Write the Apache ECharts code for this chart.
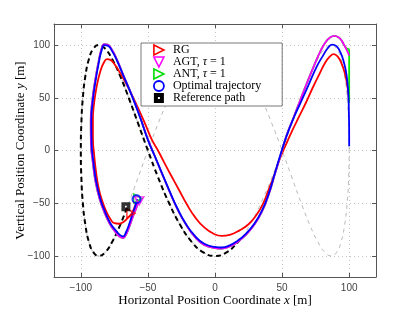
<!DOCTYPE html>
<html><head><meta charset="utf-8">
<script src="https://cdn.jsdelivr.net/npm/echarts@6/dist/echarts.min.js"></script>
<style>html,body{margin:0;padding:0;background:#fff}#c{width:415px;height:313px}</style>
</head><body><div id="c"></div>
<script>
// Full reference figure (thin grey dashed)
const refFull = [[100,0],[99.6,25.9],[98.5,50],[96.6,70.7],[94,86.6],[90.6,96.6],[86.6,100],[81.9,96.6],[76.6,86.6],[70.7,70.7],[64.3,50],[57.4,25.9],[50,0],[42.3,-25.9],[34.2,-50],[25.9,-70.7],[17.4,-86.6],[8.7,-96.6],[0,-100],[-8.7,-96.6],[-17.4,-86.6],[-25.9,-70.7],[-34.2,-50],[-42.3,-25.9],[-50,0],[-57.4,25.9],[-64.3,50],[-70.7,70.7],[-76.6,86.6],[-81.9,96.6],[-86.6,100],[-90.6,96.6],[-94,86.6],[-96.6,70.7],[-98.5,50],[-99.6,25.9],[-100,0],[-99.6,-25.9],[-98.5,-50],[-96.6,-70.7],[-94,-86.6],[-90.6,-96.6],[-86.6,-100],[-81.9,-96.6],[-76.6,-86.6],[-70.7,-70.7],[-64.3,-50],[-57.4,-25.9],[-50,0],[-42.3,25.9],[-34.2,50],[-25.9,70.7],[-17.4,86.6],[-8.7,96.6],[0,100],[8.7,96.6],[17.4,86.6],[25.9,70.7],[34.2,50],[42.3,25.9],[50,0],[57.4,-25.9],[64.3,-50],[70.7,-70.7],[76.6,-86.6],[81.9,-96.6],[86.6,-100],[90.6,-96.6],[94,-86.6],[96.6,-70.7],[98.5,-50],[99.6,-25.9],[100,0]];
// Reference path (thick black dashed)
const refPath = [[-65.6,-54.5],[-70.7,-70.7],[-76.6,-86.6],[-81.9,-96.6],[-86.6,-100],[-90.6,-96.6],[-94,-86.6],[-96.6,-70.7],[-98.5,-50],[-99.6,-25.9],[-100,0],[-99.6,25.9],[-98.5,50],[-96.6,70.7],[-94,86.6],[-90.6,96.6],[-86.6,100],[-81.9,96.6],[-76.6,86.6],[-70.7,70.7],[-64.3,50],[-57.4,25.9],[-50,0],[-42.3,-25.9],[-34.2,-50],[-25.9,-70.7],[-17.4,-86.6],[-8.7,-96.6],[0,-100],[8.7,-96.6],[17.4,-86.6],[19.1,-83.9]];
// RG trajectory
const rgPath = [[-58,-47],[-60,-54],[-62,-59.5],[-65,-64],[-68,-67.5],[-71.5,-69.5],[-75,-69],[-78,-65],[-81,-58],[-84,-48],[-86.5,-37],[-88.5,-22],[-90,-5],[-91,12],[-91,30],[-90,46],[-88,62],[-85.5,75],[-83,83],[-80.5,86.7],[-78,86],[-75,82],[-70,72],[-64,58],[-58,42],[-52,25],[-47,10],[-42.5,0],[-38,-11],[-33,-23],[-27,-37],[-21,-51],[-15,-63],[-8,-73],[-1,-79],[5,-81],[11,-80],[18,-76],[25,-70],[31,-61],[36,-50],[40,-37],[44,-24],[48,-9],[53,6],[58,20],[63,33],[68,46],[73,60],[78,73],[82,83],[85.5,89],[88.5,91.5],[91.5,89],[94.5,82],[97,72],[98.8,60],[99.7,50],[100,46]];
// AGT, tau = 1
const agtPath = [[-57,-47],[-58.5,-54],[-61,-62],[-63.5,-71],[-66,-79],[-68.5,-83],[-71.5,-81.5],[-75,-76],[-78.5,-69.5],[-82.5,-58.5],[-86,-46],[-89,-30],[-91,-12],[-92.5,8],[-92.6,28],[-91.4,48],[-89.4,66],[-86.8,84],[-84.7,96],[-82.5,101],[-80,100.5],[-77,96],[-73,86],[-68,70.5],[-62,52.5],[-56,32.5],[-50,10.5],[-45,-5],[-40,-20.5],[-34,-38.5],[-28,-55.5],[-22,-69.5],[-15,-82],[-8,-89.5],[0,-92.5],[5,-93],[11,-91],[17,-86.5],[23,-80],[29,-71],[35,-58],[40,-42],[44.5,-23],[49,-4],[53.5,15],[58.5,31],[63,46],[68.5,64],[74,81],[78.5,94],[82.5,103],[86,107.5],[89,108.8],[92,107.5],[94.5,104],[96.5,99.5],[98.5,94.5],[100,90]];
// ANT, tau = 1
const antPath = [[-57,-47],[-58.5,-54],[-61,-62],[-63.5,-71],[-66,-79],[-68.5,-83],[-71.5,-81.5],[-75,-76],[-78.5,-69.5],[-82.5,-58.5],[-86,-46],[-89,-30],[-91,-12],[-92.5,8],[-92.6,28],[-91.4,48],[-89.4,66],[-86.8,84],[-84.7,96],[-82.5,101],[-80,100.5],[-77,96],[-73,86],[-68,70.5],[-62,52.5],[-56,32.5],[-50,10.5],[-45,-5],[-40,-20.5],[-34,-38.5],[-28,-55.5],[-22,-69.5],[-15,-82],[-8,-89.5],[0,-92.5],[5,-93],[11,-91],[17,-86.5],[23,-80],[29,-71],[35,-58],[40,-42],[44.5,-23],[49,-4],[53.5,15],[58.5,31],[63,46],[68.5,64],[74,81],[78.5,94],[82.5,103],[86,107.5],[89,108.8],[92,107.5],[94.5,104],[96.5,99.5],[98.5,96.5],[100,96]];
const antTail = [[100,96],[100,45]];
// Optimal trajectory
const optPath = [[-58,-46],[-59.5,-53],[-61.5,-60],[-64,-70],[-66.5,-78],[-68.5,-81.5],[-71,-80],[-74.5,-75],[-78,-69],[-82,-58],[-85.5,-46],[-88.5,-30],[-90.5,-12],[-92,8],[-92.2,28],[-91,48],[-89,66],[-86.5,84],[-84.5,95],[-82.5,100],[-80,99.5],[-77,95],[-73,85],[-68,70],[-62,52],[-56,32],[-50,10],[-45,-5],[-40,-20],[-34,-38],[-28,-55],[-22,-69],[-15,-81],[-8,-88.5],[0,-91.5],[5,-92],[11,-90],[17,-85.5],[23,-79],[29,-70],[35,-57],[40,-41],[44.5,-22],[49,-3],[54,16],[59,32],[64,46],[70,63],[76,80],[80.5,90],[84,97],[87.3,100.5],[90.5,99],[93.5,93],[96,84],[98,72],[99.3,55],[99.8,35],[100,15],[100,4]];
// Markers
const rgMark = [[-62.7,-59.5]];
const agtMark = [[-56.5,-47.8]];
const antMark = [[-57.6,-45.6]];
const optMark = [[-58.5,-46.3]];
const refMark = [[-66.4,-53.3]];
const legendNames = ['RG','AGT, τ = 1','ANT, τ = 1','Optimal trajectory','Reference path'];

const TRI_R = 'path://M0,0L10,5L0,10Z';
const TRI_D = 'path://M0,0L10,0L5,10Z';
const SQ = 'path://M0,0L10,0L10,10L0,10Z M4,4L4,6L6,6L6,4Z';
const serif = 'Liberation Serif';
const minus = v => String(v).replace('-', '\u2212');

const axisCommon = {
  min: -120, max: 120, splitNumber: 5,
  axisLine: {show: true, onZero: false, lineStyle: {color: '#555', width: 1}},
  axisTick: {show: true, inside: true, length: 4, lineStyle: {color: '#555'}},
  splitLine: {show: true, lineStyle: {color: '#c4c4c4', type: [1, 3], width: 1}},
};

const chart = echarts.init(document.getElementById('c'));
chart.setOption({
  animation: false,
  grid: {left: 54, top: 24, right: 39, bottom: 36, show: false, containLabel: false, outerBoundsMode: 'none'},
  xAxis: [
    Object.assign({}, axisCommon, {type: 'value', position: 'bottom',
      axisLabel: {showMinLabel: false, showMaxLabel: false, margin: 6, color: '#444', fontFamily: 'Liberation Sans', fontSize: 10, formatter: minus},
      name: '{a|Horizontal Position Coordinate }{i|x}{a| [m]}', nameLocation: 'middle', nameGap: 17, nameMoveOverlap: false,
      nameTextStyle: {rich: {a: {fontFamily: serif, fontSize: 13, color: '#000'}, i: {fontFamily: serif, fontStyle: 'italic', fontSize: 13, color: '#000'}}}}),
    Object.assign({}, axisCommon, {type: 'value', position: 'top', axisLabel: {show: false}, splitLine: {show: false}})
  ],
  yAxis: [
    Object.assign({}, axisCommon, {type: 'value', position: 'left',
      axisLabel: {showMinLabel: false, showMaxLabel: false, margin: 4, color: '#444', fontFamily: 'Liberation Sans', fontSize: 10, formatter: minus},
      name: '{a|Vertical Position Coordinate }{i|y}{a| [m]}', nameLocation: 'middle', nameGap: 27, nameMoveOverlap: false,
      nameTextStyle: {rich: {a: {fontFamily: serif, fontSize: 13, color: '#000'}, i: {fontFamily: serif, fontStyle: 'italic', fontSize: 13, color: '#000'}}}}),
    Object.assign({}, axisCommon, {type: 'value', position: 'right', axisLabel: {show: false}, splitLine: {show: false}})
  ],
  legend: {
    left: 141, top: 43, orient: 'vertical', selectedMode: false,
    itemWidth: 10, itemHeight: 10, itemGap: 0,
    padding: [1, 21, 2, 12],
    backgroundColor: '#fff', borderColor: '#555', borderWidth: 0.8,
    textStyle: {fontFamily: serif, fontSize: 12, color: '#000', lineHeight: 12, padding: [0, 0, 0, 4],
      rich: {i: {fontFamily: serif, fontStyle: 'italic', fontSize: 12, color: '#000'}}},
    formatter: n => n.replace('τ', '{i|τ}'),
    data: [
      {name: legendNames[0], icon: TRI_R, itemStyle: {color: 'transparent', borderColor: '#ff0000', borderWidth: 1.6}},
      {name: legendNames[1], icon: TRI_D, itemStyle: {color: 'transparent', borderColor: '#ff00ff', borderWidth: 1.6}},
      {name: legendNames[2], icon: TRI_R, itemStyle: {color: 'transparent', borderColor: '#00dd00', borderWidth: 1.6}},
      {name: legendNames[3], icon: 'circle', itemStyle: {color: 'transparent', borderColor: '#0000ff', borderWidth: 1.8}},
      {name: legendNames[4], icon: SQ, itemStyle: {color: '#000', borderColor: '#000', borderWidth: 0}}
    ]
  },
  series: [
    {name: 'full', type: 'line', data: refFull, smooth: 0.5, showSymbol: false, lineStyle: {color: '#9a9a9a', width: 0.7, type: [4, 4]}, z: 1},
    {name: legendNames[4], type: 'line', data: refPath, smooth: 0.5, showSymbol: false, lineStyle: {color: '#000', width: 2, type: [5, 3.5]}, itemStyle: {color: '#000'}, z: 2},
    {name: legendNames[0], type: 'line', data: rgPath, smooth: 0.5, showSymbol: false, lineStyle: {color: '#ff0000', width: 1.8}, itemStyle: {color: '#ff0000'}, z: 3},
    {name: legendNames[2], type: 'line', data: antPath, smooth: 0.5, showSymbol: false, lineStyle: {color: '#00ee00', width: 1.8}, itemStyle: {color: '#00ee00'}, z: 3},
    {name: legendNames[2], type: 'line', data: antTail, showSymbol: false, lineStyle: {color: '#00ee00', width: 1.8}, itemStyle: {color: '#00ee00'}, z: 3},
    {name: legendNames[1], type: 'line', data: agtPath, smooth: 0.5, showSymbol: false, lineStyle: {color: '#ff00ff', width: 1.8}, itemStyle: {color: '#ff00ff'}, z: 3},
    {name: legendNames[3], type: 'line', data: optPath, smooth: 0.5, showSymbol: false, lineStyle: {color: '#0000ff', width: 1.8}, itemStyle: {color: '#0000ff'}, z: 4},
    {name: legendNames[0], type: 'scatter', data: rgMark, symbol: TRI_R, symbolSize: [8, 9], itemStyle: {color: 'transparent', borderColor: '#ff0000', borderWidth: 1.5}, z: 5},
    {name: legendNames[2], type: 'scatter', data: antMark, symbol: TRI_R, symbolSize: [8, 9], itemStyle: {color: 'transparent', borderColor: '#00ee00', borderWidth: 1.5}, z: 5},
    {name: legendNames[1], type: 'scatter', data: agtMark, symbol: TRI_D, symbolSize: [9, 8], itemStyle: {color: 'transparent', borderColor: '#ff00ff', borderWidth: 1.5}, z: 5},
    {name: legendNames[3], type: 'scatter', data: optMark, symbol: 'circle', symbolSize: 8, itemStyle: {color: 'transparent', borderColor: '#0000ff', borderWidth: 2}, z: 6},
    {name: legendNames[4], type: 'scatter', data: refMark, symbol: SQ, symbolSize: 9, itemStyle: {color: '#000'}, z: 6}
  ]
});
</script>
</body></html>
